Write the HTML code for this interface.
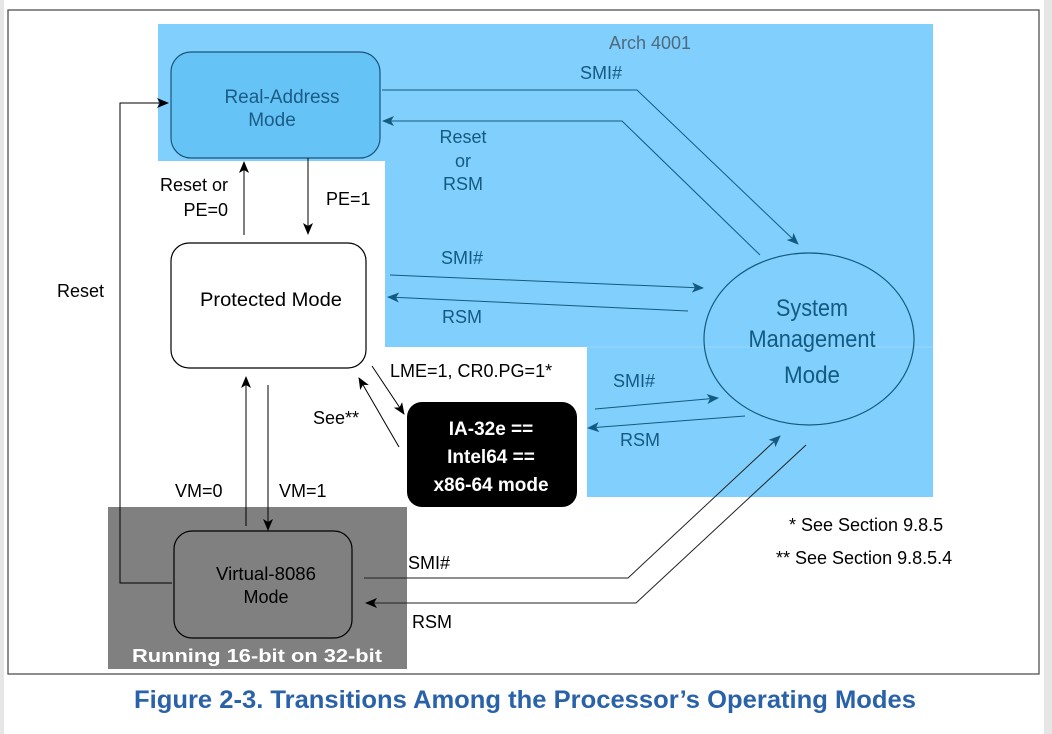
<!DOCTYPE html>
<html><head><meta charset="utf-8"><style>
html,body{margin:0;padding:0;background:#fff;width:1052px;height:734px;overflow:hidden}
svg{display:block}
text{font-family:"Liberation Sans",sans-serif}
</style></head><body>
<svg width="1052" height="734" viewBox="0 0 1052 734" xmlns="http://www.w3.org/2000/svg">
<defs>
<marker id="ab" markerWidth="12" markerHeight="10" refX="11" refY="5" orient="auto" markerUnits="userSpaceOnUse"><path d="M0,0 L12,5 L0,10 L3,5 z" fill="#000"/></marker>
<marker id="au" markerWidth="12" markerHeight="10" refX="11" refY="5" orient="auto" markerUnits="userSpaceOnUse"><path d="M0,0 L12,5 L0,10 L3,5 z" fill="#135a80"/></marker>
</defs>
<rect x="0" y="0" width="4" height="734" fill="#e6e6e6"/>
<rect x="1044" y="0" width="8" height="734" fill="#e6e6e6"/>
<rect x="8" y="10" width="1031" height="664" fill="#fff" stroke="#444" stroke-width="1.2"/>
<!-- blue region -->
<path d="M158,24 H933 V497 H587 V347 H385 V161 H158 Z" fill="#80cffd"/>
<line x1="587" y1="347" x2="933" y2="347" stroke="#9ad8fd" stroke-width="1"/>
<!-- gray region -->
<rect x="108" y="507" width="299" height="162" fill="#808080"/>
<text x="609" y="49" font-size="18" fill="#4d6a7e">Arch 4001</text>
<!-- boxes -->
<rect x="171" y="52" width="209" height="106" rx="20" fill="#66c3f5" stroke="#1b5577" stroke-width="1.2"/>
<text x="282" y="103" font-size="19" fill="#1a5c85" text-anchor="middle">Real-Address</text>
<text x="272" y="126" font-size="19" fill="#1a5c85" text-anchor="middle">Mode</text>
<rect x="171" y="243" width="195" height="125" rx="18" fill="#fff" stroke="#000" stroke-width="1.2"/>
<text x="271" y="306" font-size="19" fill="#000" text-anchor="middle" textLength="142" lengthAdjust="spacingAndGlyphs">Protected Mode</text>
<rect x="407" y="402" width="170" height="105" rx="15" fill="#000"/>
<text x="491" y="435" font-size="19" fill="#fff" text-anchor="middle" font-weight="bold">IA-32e ==</text>
<text x="491" y="463" font-size="19" fill="#fff" text-anchor="middle" font-weight="bold">Intel64 ==</text>
<text x="491" y="491" font-size="19" fill="#fff" text-anchor="middle" font-weight="bold">x86-64 mode</text>
<rect x="174" y="531" width="178" height="107" rx="18" fill="#808080" stroke="#000" stroke-width="1.2"/>
<text x="266" y="580" font-size="18" fill="#000" text-anchor="middle" textLength="100" lengthAdjust="spacingAndGlyphs">Virtual-8086</text>
<text x="266" y="603" font-size="18" fill="#000" text-anchor="middle">Mode</text>
<text x="257" y="662" font-size="18" fill="#fff" text-anchor="middle" font-weight="bold" textLength="250" lengthAdjust="spacingAndGlyphs">Running 16-bit on 32-bit</text>
<ellipse cx="809" cy="339" rx="105" ry="86" fill="none" stroke="#135a80" stroke-width="1.2"/>
<g font-size="24" fill="#135a80" text-anchor="middle">
<text x="812" y="316" textLength="72" lengthAdjust="spacingAndGlyphs">System</text>
<text x="812" y="347" textLength="127" lengthAdjust="spacingAndGlyphs">Management</text>
<text x="812" y="383" textLength="56" lengthAdjust="spacingAndGlyphs">Mode</text>
</g>
<!-- blue arrows -->
<g stroke="#135a80" stroke-width="1" fill="none">
<polyline points="382,90 637,90 798,244" marker-end="url(#au)"/>
<polyline points="760,255 622,121 383,121" marker-end="url(#au)"/>
<line x1="390" y1="275" x2="703" y2="288" marker-end="url(#au)"/>
<line x1="688" y1="311" x2="388" y2="297" marker-end="url(#au)"/>
<line x1="595" y1="409" x2="718" y2="398" marker-end="url(#au)"/>
<line x1="745" y1="416" x2="588" y2="428" marker-end="url(#au)"/>
</g>
<g font-size="18" fill="#135a80" text-anchor="middle">
<text x="601" y="79">SMI#</text>
<text x="463" y="143">Reset</text>
<text x="463" y="167">or</text>
<text x="463" y="190">RSM</text>
<text x="462" y="264">SMI#</text>
<text x="462" y="323">RSM</text>
<text x="634" y="387">SMI#</text>
<text x="640" y="446">RSM</text>
</g>
<!-- black arrows -->
<g stroke="#000" stroke-width="1" fill="none">
<line x1="308" y1="158" x2="308" y2="234" marker-end="url(#ab)"/>
<line x1="244" y1="235" x2="244" y2="162" marker-end="url(#ab)"/>
<polyline points="172,583 120,583 120,103 168,103" marker-end="url(#ab)"/>
<line x1="372" y1="366" x2="404" y2="414" marker-end="url(#ab)"/>
<line x1="399" y1="447" x2="359" y2="378" marker-end="url(#ab)"/>
<line x1="246" y1="526" x2="246" y2="377" marker-end="url(#ab)"/>
<line x1="268" y1="385" x2="268" y2="530" marker-end="url(#ab)"/>
</g>
<g stroke="#222" stroke-width="1" fill="none">
<polyline points="364,578 628,578 780,436" marker-end="url(#au)"/>
<polyline points="806,445 636,603 366,603" marker-end="url(#ab)"/>
</g>
<g font-size="18" fill="#000">
<text x="228" y="191" text-anchor="end">Reset or</text>
<text x="228" y="216" text-anchor="end">PE=0</text>
<text x="326" y="205">PE=1</text>
<text x="57" y="297">Reset</text>
<text x="390" y="377">LME=1, CR0.PG=1*</text>
<text x="313" y="424">See**</text>
<text x="175" y="497">VM=0</text>
<text x="279" y="497">VM=1</text>
<text x="408" y="569">SMI#</text>
<text x="412" y="628">RSM</text>
<text x="789" y="531">* See Section 9.8.5</text>
<text x="776" y="564">** See Section 9.8.5.4</text>
</g>
<text x="525" y="708" font-size="25" font-weight="bold" fill="#2a62aa" text-anchor="middle" textLength="782" lengthAdjust="spacingAndGlyphs">Figure 2-3.  Transitions Among the Processor’s Operating Modes</text>
</svg>
</body></html>
